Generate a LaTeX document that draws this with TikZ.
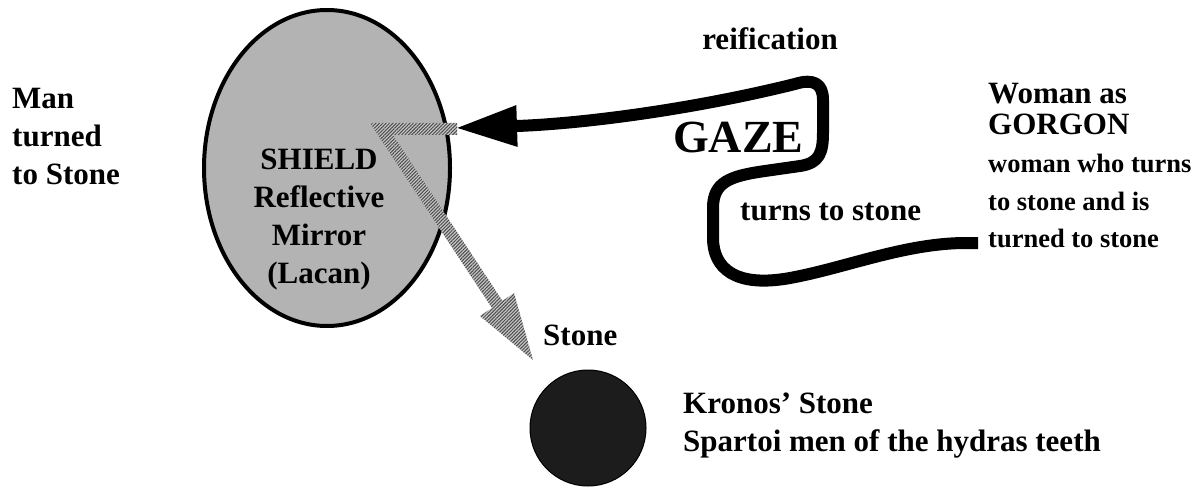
\documentclass[tikz,border=0pt]{standalone}
\usepackage{fontspec}
\setmainfont{Liberation Serif}
\usetikzlibrary{positioning,arrows.meta,shapes.geometric,patterns.meta,calc}
\definecolor{shieldgray}{RGB}{179,179,179}
\definecolor{stonedark}{RGB}{28,28,28}
\colorlet{hatchdark}{black!70}
\colorlet{hatchlight}{black!22}

\begin{document}
\begin{tikzpicture}[x=1pt,y=-1pt,
    every node/.style={font=\fontsize{31}{38}\selectfont\bfseries,inner sep=0pt},
    textblock/.style={anchor=base west,align=left},
    smalltext/.style={font=\fontsize{26.5}{37}\selectfont\bfseries},
    shield/.style={ellipse,draw,line width=4pt,fill=shieldgray,minimum width=246pt,minimum height=316pt},
    stone/.style={circle,draw,line width=1pt,fill=stonedark,minimum size=116pt},
    gazeline/.style={line width=12pt,line join=round,-{Triangle[length=62pt,width=38pt]}},
    hatched/.style={preaction={fill=hatchlight},pattern={Lines[angle=45,distance=2.4pt,line width=1pt]},pattern color=hatchdark}]
  \useasboundingbox (0,0) rectangle (1198,489);
  % shapes
  \node[shield] (shield) at (327,168) {};
  \node[stone] (kronos) at (588,428) {};
  \coordinate (reflect) at (455,128);
  \coordinate (gazeend) at (978,243);
  % reflected gaze (hatched)
  \fill[hatched] (457,123) -- (370,123) -- (492,308) -- (480,316) -- (533,360)
    -- (514,293) -- (502.5,301) -- (393,135) -- (457,135) -- cycle;
  % gaze of the gorgon
  \draw[gazeline] (gazeend) -- ++(-12,0)
    .. controls (905,243) and (845,268) .. (790,278)
    .. controls (735,288) and (713,268) .. (713,238) -- (713,208)
    .. controls (713,182) and (730,176) .. (765,171) -- (800,166)
    .. controls (820,163) and (823,152) .. (823,132) -- (823,100)
    .. controls (823,84) and (814,78) .. (795,84)
    .. controls (690,110) and (580,124) .. (reflect);
  % labels (multi-line nodes sit on their last baseline)
  \node[textblock] (man) at (12,185) {Man\\turned\\to Stone};
  \node[anchor=base,align=center] (shieldtext) at (319,283) {SHIELD\\Reflective\\Mirror\\(Lacan)};
  \node[anchor=base] (reification) at (770,50) {reification};
  \node[textblock,font=\fontsize{46}{50}\selectfont\bfseries] (gaze) at (673,153) {GAZE};
  \node[textblock] (turns) at (740,220) {turns to stone};
  \node[textblock,font=\fontsize{31}{31}\selectfont\bfseries] (woman) at (988,135) {Woman as\\GORGON};
  \node[textblock,smalltext] (womandesc) at (988,247) {woman who turns\\to stone and is\\turned to stone};
  \node[textblock] (stonelabel) at (543,345) {Stone};
  \node[textblock] (kronoslabel) at (683,451) {Kronos’ Stone\\Spartoi men of the hydras teeth};
\end{tikzpicture}
\end{document}
